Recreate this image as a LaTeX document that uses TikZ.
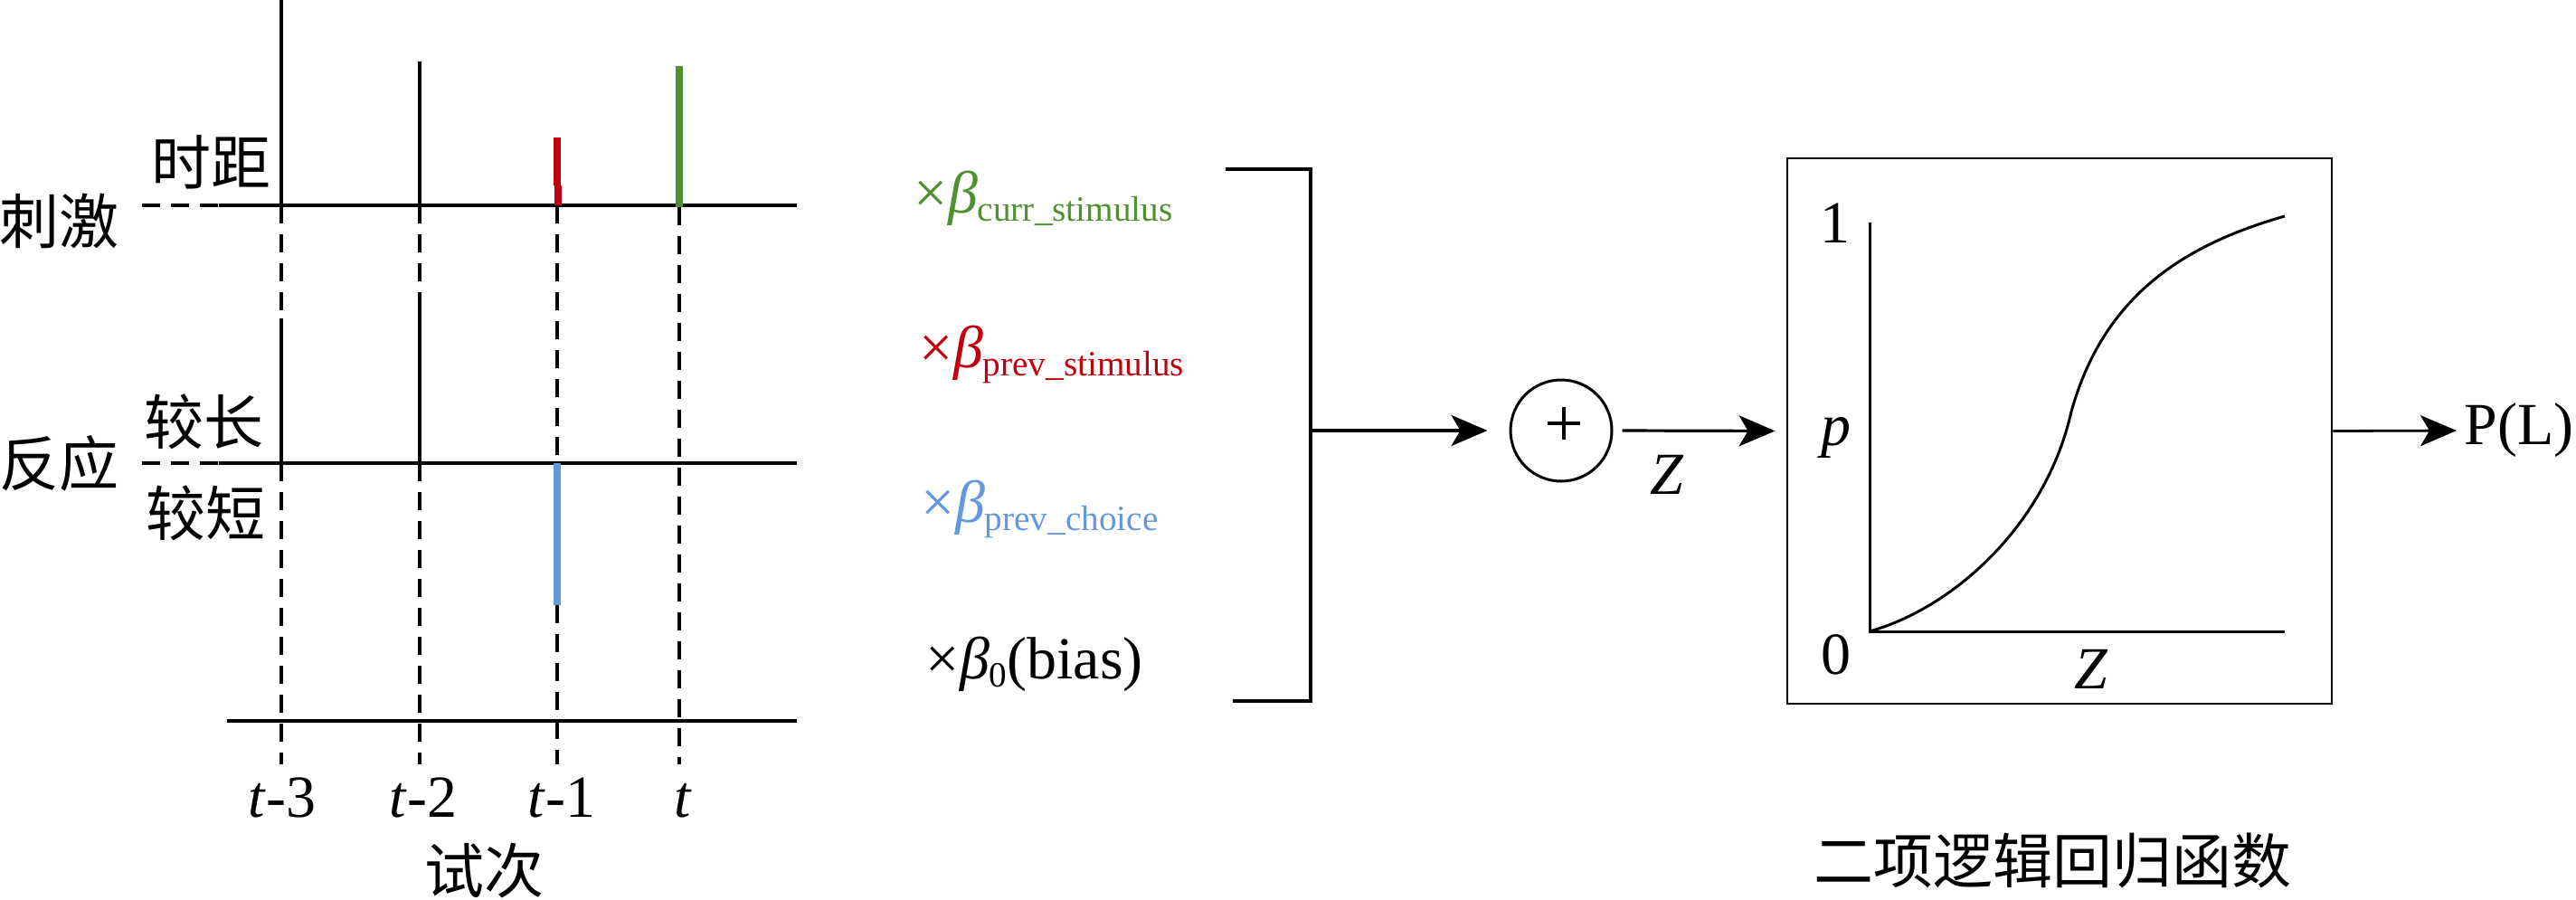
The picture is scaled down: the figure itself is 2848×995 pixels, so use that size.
\documentclass[tikz,border=0pt]{standalone}
\usepackage{fontspec}
\setmainfont{Liberation Serif}
\newfontfamily\cjk{Noto Sans CJK SC}
\usetikzlibrary{arrows.meta}
\definecolor{cgreen}{RGB}{78,145,46}
\definecolor{cred}{RGB}{192,0,12}
\definecolor{cblue}{RGB}{100,152,222}
\newcommand\mysub[1]{\raisebox{-2.25pt}{\fontsize{9.8}{10}\selectfont #1}}
\begin{document}
\begin{tikzpicture}[x=0.25pt,y=-0.25pt,
  axis/.style={line width=1pt},
  dsh/.style={line width=1pt, dash pattern=on 5pt off 3pt},
  bar/.style={line width=2pt},
  zh/.style={font=\fontsize{16.5}{20}\selectfont\cjk, inner sep=0pt},
  lab/.style={font=\fontsize{16.5}{20}\selectfont, inner sep=0pt},
  arr/.style={line width=0.8pt, -{Stealth[length=10pt,width=8.5pt,inset=2.5pt]}},
]
\useasboundingbox (0,0) rectangle (2848,995);
% ---------- left timeline ----------
\coordinate (sL) at (157,227); \coordinate (sM) at (242,227); \coordinate (sR) at (881,227);
\coordinate (rL) at (157,512); \coordinate (rM) at (242,512); \coordinate (rR) at (881,512);
\coordinate (bL) at (251,797); \coordinate (bR) at (881,797);
\draw[dsh] (sL) -- (sM);
\draw[axis] (sM) -- (sR);
\draw[dsh] (rL) -- (rM);
\draw[axis] (rM) -- (rR);
\draw[axis] (bL) -- (bR);
% t-3
\coordinate (a0) at (311,0); \coordinate (a1) at (311,227); \coordinate (a2) at (311,352);
\coordinate (a3) at (311,512); \coordinate (a4) at (311,845);
\draw[axis] (a0) -- (a1);
\draw[dsh] (a1) -- (a2);
\draw[axis] (a2) -- (a3);
\draw[dsh] (a3) -- (a4);
% t-2
\coordinate (b0) at (464,68); \coordinate (b1) at (464,227); \coordinate (b2) at (464,339);
\coordinate (b3) at (464,512); \coordinate (b4) at (464,845);
\draw[axis] (b0) -- (b1);
\draw[dsh] (b1) -- (b2);
\draw[axis] (b2) -- (b3);
\draw[dsh] (b3) -- (b4);
% t-1
\coordinate (c0) at (616,152); \coordinate (c0b) at (616,205); \coordinate (c1a) at (617,205);
\coordinate (c1b) at (617,227); \coordinate (c1) at (616,227); \coordinate (c2) at (616,512);
\coordinate (c3) at (616,669); \coordinate (c4) at (616,845);
\draw[bar, cred] (c0) -- (c0b);
\draw[bar, cred] (c1a) -- (c1b);
\draw[dsh] (c1) -- (c2);
\draw[bar, cblue] (c2) -- (c3);
\draw[dsh] (c3) -- (c4);
% t
\coordinate (d0) at (751,73); \coordinate (d1) at (751,229); \coordinate (d2) at (751,845);
\draw[bar, cgreen] (d0) -- (d1);
\draw[dsh] (d1) -- (d2);
% labels
\node[zh] (ci) at (65,244) {刺激};
\node[zh] (sj) at (233,179) {时距};
\node[zh] (jc) at (225,466) {较长};
\node[zh] (fy) at (65,512) {反应};
\node[zh] (jd) at (227,567) {较短};
\node[zh] (sc) at (535,963) {试次};
\node[lab, anchor=base] (l3) at (312,903) {\textit{t}-3};
\node[lab, anchor=base] (l2) at (468,903) {\textit{t}-2};
\node[lab, anchor=base] (l1) at (621,903) {\textit{t}-1};
\node[lab, anchor=base] (l0) at (755,903) {\textit{t}};
% ---------- middle terms ----------
\node[lab, anchor=base west, text=cgreen] (bcur) at (1010,236) {×\textit{β}\mysub{curr\_stimulus}};
\node[lab, anchor=base west, text=cred] (bps) at (1016,406) {×\textit{β}\mysub{prev\_stimulus}};
\node[lab, anchor=base west, text=cblue] (bpc) at (1018,577) {×\textit{β}\mysub{prev\_choice}};
\node[lab, anchor=base west] (bb) at (1023,750) {×\textit{β}\mysub{0}(bias)};
% bracket
\coordinate (k1) at (1355,187); \coordinate (k2) at (1449,187);
\coordinate (k3) at (1449,775); \coordinate (k4) at (1363,775);
\draw[line width=1pt] (k1) -- (k2) -- (k3) -- (k4);
\coordinate (brk) at (1449,476);
% sum
\node[circle, draw, line width=0.75pt, minimum size=28pt, inner sep=0pt] (sum) at (1726,476) {};
\coordinate (pl1) at (1711,468); \coordinate (pr1) at (1747,468);
\coordinate (pt1) at (1729,450); \coordinate (pb1) at (1729,486);
\draw[line width=0.85pt] (pl1) -- (pr1);
\draw[line width=0.85pt] (pt1) -- (pb1);
\draw[arr, shorten >=6pt] (brk) -- (sum.west);
% box
\node[draw, line width=0.7pt, minimum width=150.5pt, minimum height=150.75pt, inner sep=0pt] (box) at (2277,476.5) {};
\draw[arr, shorten <=2.5pt, shorten >=3pt] (sum.east) -- (box.west);
\node[lab] (zl) at (1843,525) {\textit{Z}};
% plot
\coordinate (ytop) at (2067,246); \coordinate (o) at (2067,698); \coordinate (xend) at (2526,698);
\draw[line width=0.75pt] (ytop) -- (o) -- (xend);
\coordinate (q1) at (2160,672); \coordinate (q2) at (2262,580); \coordinate (qm) at (2290,455);
\coordinate (q3) at (2325,330); \coordinate (q4) at (2410,272); \coordinate (qe) at (2526,239);
\draw[line width=0.75pt] (o) .. controls (q1) and (q2) .. (qm) .. controls (q3) and (q4) .. (qe);
\node[lab, anchor=base] (one) at (2029,268) {1};
\node[lab, anchor=base] (pp) at (2030,492) {\textit{p}};
\node[lab, anchor=base] (zero) at (2030,745) {0};
\node[lab, anchor=base] (zz) at (2312,761) {\textit{Z}};
% output
\node[lab, anchor=west] (pl) at (2724,476) {P(L)};
\draw[arr, line width=0.7pt, shorten >=2pt] (box.east) -- (pl.west);
\node[zh] (title) at (2269,952) {二项逻辑回归函数};
\end{tikzpicture}
\end{document}
